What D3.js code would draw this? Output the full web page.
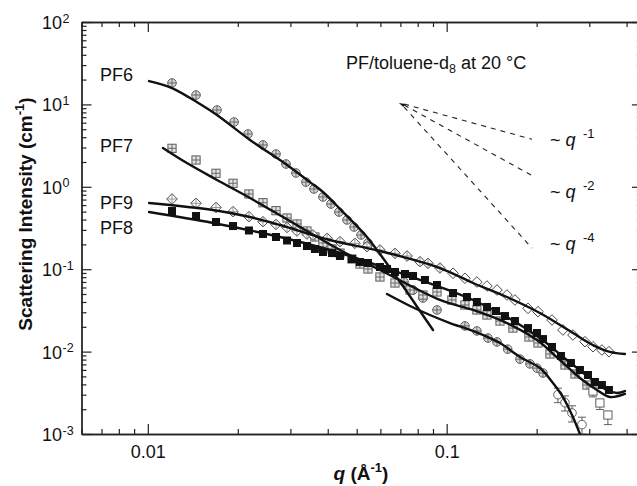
<!DOCTYPE html>
<html><head><meta charset="utf-8">
<script src="https://cdn.jsdelivr.net/npm/d3@7"></script>
<style>body{margin:0;background:#fff}svg{display:block}</style>
</head><body><svg id="c" width="637" height="486"></svg>
<script>
// ---------------- data ----------------
const qDomain = [0.006, 0.45];
const iDomain = [0.001, 100];
const qMajorTicks = [0.01, 0.1];
const qTickLabels = ["0.01", "0.1"];
const qMinorTicks = [0.006,0.007,0.008,0.009,0.02,0.03,0.04,0.05,0.06,0.07,0.08,0.09,0.2,0.3,0.4];
const iTickExps = [2, 1, 0, -1, -2, -3];

// PF6 (circles)
const pf6aQ = [0.01205,0.0145,0.01704,0.01944,0.02163,0.02429,0.02685,0.029,0.03131,0.03382,0.03597,0.03855,0.041,0.0436,0.0464,0.049,0.0517,0.05453];
const pf6aI = [18.2,13.0,8.55,6.11,4.37,3.22,2.50,1.89,1.47,1.14,0.94,0.752,0.618,0.494,0.396,0.325,0.26,0.208];
const pf6bQ = [0.072,0.0772,0.0833,0.0928,0.1151,0.1262,0.1375,0.1473,0.160,0.1759,0.19,0.2005,0.21];
const pf6bI = [0.0699,0.0559,0.0447,0.032,0.0205,0.0178,0.0146,0.0131,0.0107,0.0081,0.0071,0.0063,0.0055];
const pf6cQ = [0.2357,0.2488,0.2626,0.2836];
const pf6cI = [0.0030,0.0024,0.0018,0.0013];
const pf6cErr = [0.0006,0.0005,0.0004,0.0003];

// PF7 (squares)
const pf7aQ = [0.01205,0.0145,0.01691,0.01928,0.0218,0.02429,0.02685,0.02923,0.03156,0.03408,0.03624,0.03855,0.04133,0.04396,0.04819,0.05126,0.05453];
const pf7aI = [2.93,2.115,1.458,1.103,0.818,0.641,0.513,0.418,0.354,0.291,0.246,0.208,0.176,0.157,0.133,0.1156,0.1006];
const pf7bQ = [0.05981,0.06714,0.0754,0.0833,0.0928,0.1041,0.1151,0.1262,0.1364,0.1508,0.1666,0.1885,0.2021,0.2216,0.2488,0.2687,0.2947];
const pf7bI = [0.0804,0.068,0.0559,0.0486,0.0529,0.0423,0.0368,0.032,0.0278,0.0235,0.0193,0.01504,0.01272,0.00935,0.00688,0.00535,0.00393];
const pf7cQ = [0.3087,0.3256,0.3463];
const pf7cI = [0.00332,0.00238,0.0017];
const pf7cErr = [0.0005,0.0004,0.0004];

// PF9 (diamonds)
const pf9aQ = [0.01205,0.0145,0.01691,0.01928,0.0218,0.02429,0.02685,0.02923,0.03156,0.03408,0.0357,0.0398,0.04396,0.0493,0.0541,0.05981,0.06714,0.0737,0.0814,0.0866,0.09497];
const pf9aI = [0.711,0.631,0.561,0.499,0.434,0.377,0.349,0.321,0.291,0.2675,0.260,0.237,0.2157,0.2062,0.1875,0.171,0.156,0.1446,0.1233,0.1179,0.1034];
const pf9bQ = [0.105,0.1151,0.1262,0.1364,0.1473,0.1591,0.1692,0.1871,0.2021,0.2251,0.2449,0.2645,0.2902,0.3087,0.3307,0.3491];
const pf9bI = [0.0892,0.0776,0.0699,0.0625,0.0559,0.0486,0.0423,0.0335,0.0305,0.0242,0.0183,0.0159,0.0132,0.01147,0.01046,0.00997];

// PF8 (filled squares)
const pf8Q = [0.01205,0.0145,0.01691,0.01928,0.0218,0.02429,0.02685,0.02923,0.03156,0.03408,0.03624,0.03855,0.04133,0.04396,0.04819,0.05126,0.05453,0.05981,0.06314,0.06714,0.07254,0.07715,0.08459,0.0928,0.105,0.1169,0.1262,0.1364,0.1462,0.1567,0.1692,0.1871,0.2005,0.21,0.2251,0.2412,0.2605,0.2792,0.297,0.3134,0.3307,0.3491];
const pf8I = [0.508,0.442,0.374,0.334,0.295,0.2675,0.246,0.223,0.208,0.191,0.176,0.1617,0.157,0.1446,0.133,0.1223,0.119,0.1063,0.1006,0.0925,0.0875,0.0827,0.074,0.0643,0.0514,0.046,0.040,0.0348,0.0311,0.027,0.0235,0.0193,0.0168,0.0142,0.01137,0.00884,0.00727,0.00598,0.0052,0.00428,0.00393,0.00342];

// model fits
const fit6LowQ = [0.0101,0.01205,0.01495,0.01704,0.02198,0.02923,0.03489,0.03855,0.045,0.0493,0.0541,0.05981,0.0661,0.0737,0.0814,0.09];
const fit6LowI = [19.2,15.8,10.1,7.43,3.70,1.84,1.14,0.865,0.494,0.354,0.246,0.153,0.0925,0.0529,0.0311,0.0183];
const fit6HighQ = [0.06314,0.0754,0.0879,0.1026,0.1197,0.1396,0.1508,0.1759,0.2051,0.2268,0.2449,0.2645,0.2858];
const fit6HighI = [0.050,0.0358,0.0278,0.0222,0.0183,0.0146,0.0127,0.0086,0.00632,0.00416,0.00281,0.00161,0.0008];
const fit7Q = [0.01124,0.01352,0.01704,0.02198,0.02834,0.03408,0.04396,0.05981,0.09497,0.1225,0.1591,0.2005,0.2393,0.2792,0.3183,0.3518,0.395];
const fit7I = [2.96,1.94,1.21,0.731,0.43,0.291,0.171,0.0978,0.0423,0.032,0.0222,0.0138,0.00791,0.00478,0.00342,0.00281,0.00306];
const fit9Q = [0.0101,0.01652,0.02198,0.0277,0.0407,0.05981,0.09497,0.1225,0.1591,0.2051,0.2645,0.3087,0.3518,0.395];
const fit9I = [0.636,0.523,0.430,0.344,0.226,0.1664,0.1034,0.068,0.046,0.0294,0.0168,0.0120,0.0099,0.00935];
const fit8Q = [0.0101,0.01652,0.0277,0.0407,0.05981,0.09497,0.1225,0.1591,0.2051,0.2527,0.3016,0.3438,0.3713,0.395];
const fit8I = [0.494,0.364,0.246,0.171,0.1093,0.0608,0.0423,0.0263,0.0146,0.00791,0.00478,0.00342,0.00315,0.00332];

// power-law guides
const guideExps = ["-1", "-2", "-4"];
const guideStartQ = [0.072, 0.072, 0.072];
const guideStartI = [10.1, 9.83, 9.29];
const guideEndQ = [0.193, 0.193, 0.193];
const guideEndI = [3.77, 1.37, 0.18];
const guideApex = [0.0692, 10.4];

const sampleLabels = ["PF6", "PF7", "PF9", "PF8"];

// ---------------- layout ----------------
const FONT = "'Liberation Sans', Arial, Helvetica, sans-serif";
const svg = d3.select("#c");
const x = d3.scaleLog().domain(qDomain).range([81.5, 641.9]);
const y = d3.scaleLog().domain(iDomain).range([434, 22]);
const AX = "#222";

svg.append("defs").append("clipPath").attr("id","plot")
  .append("rect").attr("x",81.5).attr("y",22).attr("width",560.4).attr("height",412);

const iMinorTicks = [];
for (let e = -3; e < 2; e++) for (let k = 2; k <= 9; k++) iMinorTicks.push(k * Math.pow(10, e));
const iMajorTicks = iTickExps.map(e => Math.pow(10, e));

function styleAxis(g) {
  g.selectAll("path.domain").attr("stroke", AX).attr("stroke-width", 1.3);
  g.selectAll(".tick line").attr("stroke", AX).attr("stroke-width", 1.2);
}
const axB = svg.append("g").attr("transform", `translate(0,434)`);
axB.append("g").call(d3.axisBottom(x).tickValues(qMinorTicks).tickSize(-5).tickSizeOuter(0).tickFormat("")).call(styleAxis);
const axBM = axB.append("g").call(d3.axisBottom(x).tickValues(qMajorTicks).tickSize(-10).tickSizeOuter(0).tickPadding(11).tickFormat((d,i)=>qTickLabels[i])).call(styleAxis);
axBM.selectAll("text").attr("font-family", FONT).attr("font-size", 18).attr("fill", "#111");

const axT = svg.append("g").attr("transform", `translate(0,22)`);
axT.append("g").call(d3.axisTop(x).tickValues(qMinorTicks).tickSize(-5).tickSizeOuter(0).tickFormat("")).call(styleAxis);
axT.append("g").call(d3.axisTop(x).tickValues(qMajorTicks).tickSize(-10).tickSizeOuter(0).tickFormat("")).call(styleAxis);

const axL = svg.append("g").attr("transform", `translate(81.5,0)`);
axL.append("g").call(d3.axisLeft(y).tickValues(iMinorTicks).tickSize(-5).tickSizeOuter(0).tickFormat("")).call(styleAxis);
axL.append("g").call(d3.axisLeft(y).tickValues(iMajorTicks).tickSize(-10).tickSizeOuter(0).tickFormat("")).call(styleAxis);

const axR = svg.append("g").attr("transform", `translate(641.9,0)`);
axR.append("g").call(d3.axisRight(y).tickValues(iMinorTicks).tickSize(-5).tickSizeOuter(0).tickFormat("")).call(styleAxis);
axR.append("g").call(d3.axisRight(y).tickValues(iMajorTicks).tickSize(-10).tickSizeOuter(0).tickFormat("")).call(styleAxis);

iTickExps.forEach(e => {
  const yy = y(Math.pow(10, e));
  svg.append("text").attr("x", 62).attr("y", yy + 7).attr("text-anchor", "end")
    .attr("font-family", FONT).attr("font-size", 18).attr("fill", "#111").text("10");
  svg.append("text").attr("x", 62.5).attr("y", yy + 0.5)
    .attr("font-family", FONT).attr("font-size", 12.5).attr("fill", "#111").text(String(e));
});

const yt = svg.append("text").attr("transform", "translate(32,214) rotate(-90)")
  .attr("text-anchor", "middle").attr("font-family", FONT).attr("font-size", 19).attr("font-weight", "bold").attr("fill", "#111");
yt.append("tspan").text("Scattering Intensity (cm");
yt.append("tspan").attr("font-size", 13).attr("dy", -8).text("-1");
yt.append("tspan").attr("dy", 8).text(")");

const xt = svg.append("text").attr("x", 361).attr("y", 480).attr("text-anchor", "middle")
  .attr("font-family", FONT).attr("font-size", 19).attr("font-weight", "bold").attr("fill", "#111");
xt.append("tspan").attr("font-style", "italic").text("q");
xt.append("tspan").text(" (Å");
xt.append("tspan").attr("font-size", 13).attr("dy", -8).text("-1");
xt.append("tspan").attr("dy", 8).text(")");

// ---------------- marks ----------------
const plot = svg.append("g").attr("clip-path", "url(#plot)");
const GRAY_S = "#5e5e5e", GRAY_F = "#d4d4d4";

function points(qs, Is, type) {
  const g = plot.append("g");
  qs.forEach((q, i) => {
    const cx = x(q), cy = y(Is[i]);
    if (type === "circleX" || type === "circleO") {
      const r = 4.3;
      g.append("circle").attr("cx", cx).attr("cy", cy).attr("r", r)
        .attr("fill", type === "circleX" ? GRAY_F : "#fff").attr("stroke", GRAY_S).attr("stroke-width", 1);
      if (type === "circleX") {
        g.append("path").attr("d", `M${cx-r},${cy}H${cx+r}M${cx},${cy-r}V${cy+r}`).attr("stroke", GRAY_S).attr("stroke-width", 0.9);
      }
    } else if (type === "squareX" || type === "squareO") {
      const h = 4.1;
      g.append("rect").attr("x", cx-h).attr("y", cy-h).attr("width", 2*h).attr("height", 2*h)
        .attr("fill", type === "squareX" ? "#e2e2e2" : "#fff").attr("stroke", GRAY_S).attr("stroke-width", 1);
      if (type === "squareX") {
        g.append("path").attr("d", `M${cx-h},${cy}H${cx+h}M${cx},${cy-h}V${cy+h}`).attr("stroke", GRAY_S).attr("stroke-width", 0.9);
      }
    } else if (type === "diamondX" || type === "diamondO") {
      const h = 5.3;
      g.append("path").attr("d", `M${cx},${cy-h}L${cx+h},${cy}L${cx},${cy+h}L${cx-h},${cy}Z`)
        .attr("fill", "#fff").attr("stroke", "#4a4a4a").attr("stroke-width", 1);
      if (type === "diamondX") {
        g.append("path").attr("d", `M${cx-h},${cy}H${cx+h}M${cx},${cy-h}V${cy+h}`).attr("stroke", "#8a8a8a").attr("stroke-width", 0.9);
      }
    } else if (type === "squareF") {
      const h = 4;
      g.append("rect").attr("x", cx-h).attr("y", cy-h).attr("width", 2*h).attr("height", 2*h).attr("fill", "#111");
    }
  });
}
function errorBars(qs, Is, errs, lowerOnly) {
  const g = plot.append("g").attr("stroke", GRAY_S).attr("stroke-width", 1);
  qs.forEach((q, i) => {
    const cx = x(q);
    const y0 = y(Is[i] - errs[i]), y1 = lowerOnly ? y(Is[i]) : y(Is[i] + errs[i]);
    g.append("path").attr("d", `M${cx},${y1}V${y0}M${cx-4},${y0}H${cx+4}` + (lowerOnly ? "" : `M${cx-4},${y1}H${cx+4}`)).attr("fill", "none");
  });
}

errorBars(pf6cQ, pf6cI, pf6cErr, false);
errorBars(pf7cQ, pf7cI, pf7cErr, true);
points(pf6aQ, pf6aI, "circleX");
points(pf6bQ, pf6bI, "circleX");
points(pf6cQ, pf6cI, "circleO");
points(pf7aQ, pf7aI, "squareX");
points(pf7bQ, pf7bI, "squareX");
points(pf7cQ, pf7cI, "squareO");
points(pf9aQ, pf9aI, "diamondX");
points(pf9bQ, pf9bI, "diamondO");
points(pf8Q, pf8I, "squareF");

const line = d3.line().x(d => x(d[0])).y(d => y(d[1])).curve(d3.curveCatmullRom.alpha(0.5));
[[fit6LowQ, fit6LowI], [fit6HighQ, fit6HighI], [fit7Q, fit7I], [fit9Q, fit9I], [fit8Q, fit8I]].forEach(([qs, Is]) => {
  plot.append("path").attr("d", line(qs.map((q, i) => [q, Is[i]])))
    .attr("fill", "none").attr("stroke", "#111").attr("stroke-width", 2.4).attr("stroke-linecap", "round");
});

guideExps.forEach((e, i) => {
  svg.append("line").attr("x1", x(guideStartQ[i])).attr("y1", y(guideStartI[i]))
    .attr("x2", x(guideEndQ[i])).attr("y2", y(guideEndI[i]))
    .attr("stroke", "#222").attr("stroke-width", 1.1).attr("stroke-dasharray", "5,5");
});
{
  const ax = x(guideApex[0]), ay = y(guideApex[1]);
  svg.append("path").attr("d", `M${ax},${ay}L${ax+6},${ay+1}L${ax+4.5},${ay+4}Z`).attr("fill", "#111");
}
const guideLabelBase = [146, 198, 250];
guideExps.forEach((e, i) => {
  const t = svg.append("text").attr("x", 550).attr("y", guideLabelBase[i])
    .attr("font-family", FONT).attr("font-size", 18).attr("fill", "#111");
  t.append("tspan").text("~ ");
  t.append("tspan").attr("font-style", "italic").text("q");
  t.append("tspan").attr("x", 583).attr("dy", -8).attr("font-size", 13).text(e);
});

const ann = svg.append("text").attr("x", 346).attr("y", 69).attr("font-family", FONT).attr("font-size", 18).attr("fill", "#111");
ann.append("tspan").text("PF/toluene-d");
ann.append("tspan").attr("font-size", 12.5).attr("dy", 4).text("8");
ann.append("tspan").attr("dy", -4).text(" at 20 °C");

const sampleLabelBase = [81, 151.7, 209.3, 234.3];
sampleLabels.forEach((s, i) => {
  svg.append("text").attr("x", 100).attr("y", sampleLabelBase[i])
    .attr("font-family", FONT).attr("font-size", 18).attr("fill", "#111").text(s);
});
</script></body></html>
